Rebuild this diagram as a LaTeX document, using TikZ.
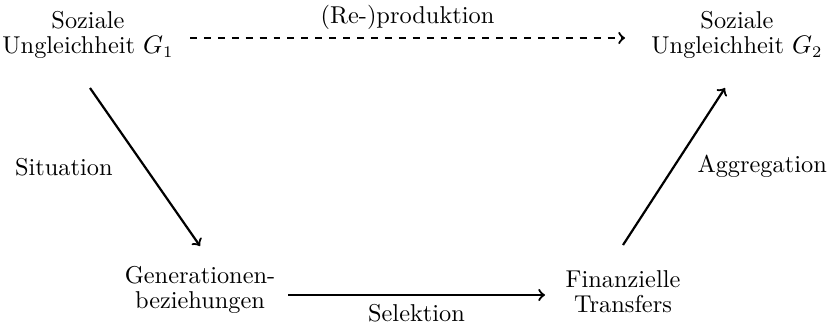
\documentclass[tikz,border=0pt]{standalone}
\usetikzlibrary{calc}
\begin{document}
\begin{tikzpicture}[x=0.01515cm,y=-0.01515cm,
  lbl/.style={align=center,inner sep=0pt,font=\fontsize{10.5}{10.8}\selectfont},
  arr/.style={->,line width=0.95pt}]
\useasboundingbox (0,0) rectangle (827,325);
% the four states
\node[lbl] (g1) at (88,35) {Soziale\\Ungleichheit $G_1$};
\node[lbl] (g2) at (737,35) {Soziale\\Ungleichheit $G_2$};
\node[lbl] (gen) at (200,290) {Generationen-\\beziehungen};
\node[lbl] (fin) at (623,292) {Finanzielle\\Transfers};
% transitions between the states
\draw[arr,dashed] ($(g1)+(102,3)$) -- node[lbl,yshift=9pt]{(Re-)produktion} ($(g2)+(-112,3)$);
\draw[arr] ($(g1)+(2,53)$) -- node[lbl,xshift=-35pt]{Situation} ($(gen)+(0,-44)$);
\draw[arr] ($(gen)+(88,5)$) -- node[lbl,yshift=-8pt]{Selektion} ($(fin)+(-78,3)$);
\draw[arr] ($(fin)+(0,-47)$) -- node[lbl,xshift=38pt]{Aggregation} ($(g2)+(-12,53)$);
\end{tikzpicture}
\end{document}
